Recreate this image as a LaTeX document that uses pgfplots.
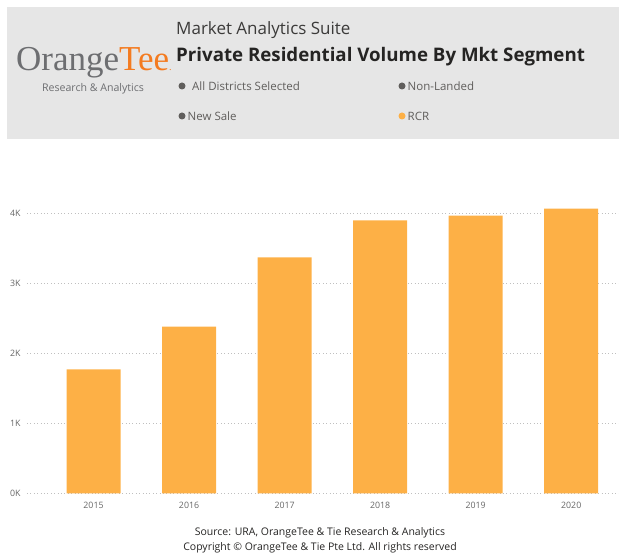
\documentclass[border=0pt]{standalone}
\usepackage{pgfplots}
\pgfplotsset{compat=1.18}
\usepackage{fontspec}
\setmainfont{Open Sans}
\newfontfamily\logofont{Liberation Serif}
\definecolor{barorange}{HTML}{FDB046}
\definecolor{hdrgray}{HTML}{E6E6E6}
\definecolor{titlecol}{HTML}{252423}
\definecolor{subcol}{HTML}{3B3A39}
\definecolor{bulcol}{HTML}{605E5C}
\definecolor{tickcol}{HTML}{666666}
\definecolor{logogray}{HTML}{6D6E71}
\definecolor{logoorange}{HTML}{F47B20}
\begin{document}
\begin{tikzpicture}[x=1pt,y=1pt]
\useasboundingbox (0,0) rectangle (619,557);
% header
\fill[hdrgray] (7,418) rectangle (619,550);
\node[anchor=base west,inner sep=0pt,font=\logofont\fontsize{35}{35}\selectfont] at (16,486)
  {\textcolor{logogray}{Orange}\textcolor{logoorange}{Tee}{\fontsize{10}{10}\selectfont\textcolor{logoorange}{.}}};
\node[inner sep=0pt,font=\fontsize{10.6}{11}\selectfont,text=logogray] at (93,468) {Research \& Analytics};
\node[anchor=west,inner sep=0pt,font=\fontsize{17}{18}\selectfont,text=subcol] at (176,527) {Market Analytics Suite};
\node[anchor=west,inner sep=0pt,font=\bfseries\fontsize{18.7}{20}\selectfont,text=titlecol] at (176,500) {Private Residential Volume By Mkt Segment};
\fill[bulcol] (182,471) circle (3.5);
\node[anchor=west,inner sep=0pt,font=\fontsize{11.5}{12}\selectfont,text=bulcol] at (192,471) {All Districts Selected};
\fill[bulcol] (402,471) circle (3.5);
\node[anchor=west,inner sep=0pt,font=\fontsize{11.5}{12}\selectfont,text=bulcol] at (407.5,471) {Non-Landed};
\fill[bulcol] (182,441) circle (3.5);
\node[anchor=west,inner sep=0pt,font=\fontsize{11.5}{12}\selectfont,text=bulcol] at (187.5,441) {New Sale};
\fill[barorange] (402,441) circle (3.5);
\node[anchor=west,inner sep=0pt,font=\fontsize{11.5}{12}\selectfont,text=bulcol] at (407.5,441) {RCR};
% chart
\begin{axis}[
  at={(27pt,63.7pt)}, anchor=south west,
  scale only axis, width=592pt, height=301pt,
  xmin=-0.696, xmax=5.5, ymin=0, ymax=4300,
  axis line style={draw=none},
  ybar, bar width=54pt,
  xtick={0,1,2,3,4,5},
  xticklabels={2015,2016,2017,2018,2019,2020},
  ytick={0,1000,2000,3000,4000},
  yticklabels={0K,1K,2K,3K,4K},
  ymajorgrids,
  grid style={dash pattern=on 0.8pt off 2.6pt, color=black!25, line width=0.7pt},
  tick style={draw=none},
  ticklabel style={font=\fontsize{8.8}{9}\selectfont, text=tickcol},
  yticklabel style={xshift=-3pt},
  xticklabel style={yshift=-1pt},
  /pgf/number format/assume math mode=true,
  clip=false,
]
\addplot[fill=barorange, draw=none] coordinates {(0,1770) (1,2380) (2,3370) (3,3900) (4,3965) (5,4065)};
\end{axis}
% footer
\node[inner sep=0pt,font=\fontsize{10.5}{11}\selectfont,text=titlecol] at (320,24) {Source: URA, OrangeTee \& Tie Research \& Analytics};
\node[inner sep=0pt,font=\fontsize{10.5}{11}\selectfont,text=titlecol] at (320,9) {Copyright © OrangeTee \& Tie Pte Ltd. All rights reserved};
\end{tikzpicture}
\end{document}
